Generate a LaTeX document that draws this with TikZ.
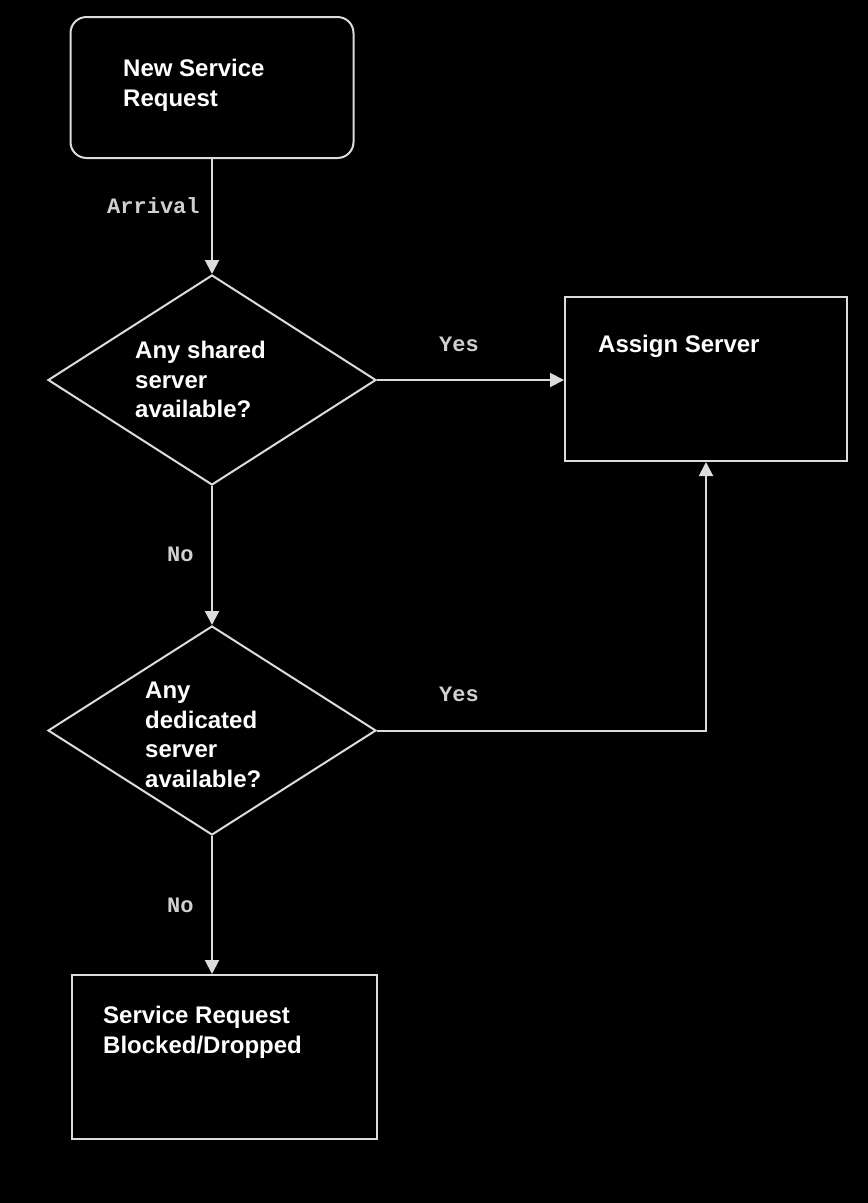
\documentclass[tikz,border=0pt]{standalone}
\usepackage{fontspec}
\setmainfont{Liberation Sans}
\newfontfamily\monofont{Liberation Mono}
\usetikzlibrary{shapes.geometric,arrows.meta}
\definecolor{linegray}{HTML}{DCDCDC}
\definecolor{labelgray}{HTML}{D0D0D0}
\begin{document}
\begin{tikzpicture}[x=1pt,y=-1pt,
  shapeline/.style={draw=linegray, line width=2pt},
  procbox/.style={shapeline, rectangle, inner sep=0pt},
  decision/.style={shapeline, diamond, inner sep=0pt},
  boxtext/.style={text=white, font=\bfseries\fontsize{24}{29.5}\selectfont,
    align=left, inner sep=0pt, anchor=north west},
  edgelabel/.style={text=labelgray, font=\monofont\bfseries\fontsize{22}{22}\selectfont,
    inner sep=0pt, anchor=base west},
  flow/.style={draw=linegray, line width=2pt, -{Triangle[width=14pt,length=14pt]}}
]
% canvas
\fill[black] (0,0) rectangle (868,1203);
\useasboundingbox (0,0) rectangle (868,1203);

% shapes
\node[procbox, rounded corners=16pt, minimum width=283pt, minimum height=141pt] (req) at (212,87.5) {};
\node[decision, minimum width=328pt, minimum height=210pt] (d1) at (212,380) {};
\node[procbox, minimum width=282pt, minimum height=164pt] (assign) at (706,379) {};
\node[decision, minimum width=328pt, minimum height=209pt] (d2) at (212,730.5) {};
\node[procbox, minimum width=305pt, minimum height=164pt] (blocked) at (224.5,1057) {};

% texts inside the shapes
\node[boxtext] (reqtext) at (123,59) {New Service\\Request};
\node[boxtext] (d1text) at (135,341) {Any shared\\server\\available?};
\node[boxtext] (assigntext) at (598,335) {Assign Server};
\node[boxtext] (d2text) at (145,682) {Any\\dedicated\\server\\available?};
\node[boxtext] (blockedtext) at (103,1006) {Service Request\\Blocked/Dropped};

% connectors
\draw[flow] (req.south) -- (d1.north);
\draw[flow] (d1.east) -- (d1.east -| assign.west);
\draw[flow] (d1.south) -- (d2.north);
\draw[flow] (d2.east) -| (assign.south);
\draw[flow] (d2.south) -- (d2.south |- blocked.north);

% connector labels
\node[edgelabel] (arrival) at (107,213) {Arrival};
\node[edgelabel] (yes1) at (439,351) {Yes};
\node[edgelabel] (yes2) at (439,701) {Yes};
\node[edgelabel] (no1) at (167,561) {No};
\node[edgelabel] (no2) at (167,912) {No};
\end{tikzpicture}
\end{document}
